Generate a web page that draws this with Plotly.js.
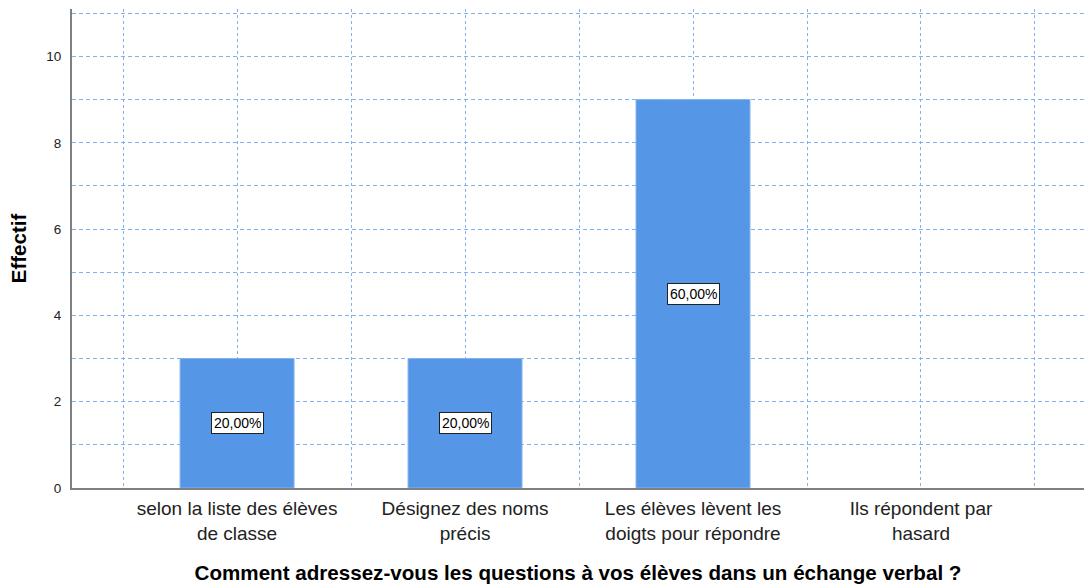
<!DOCTYPE html>
<html>
<head>
<meta charset="utf-8">
<script src="https://cdn.plot.ly/plotly-3.0.1.min.js"></script>
<style>html,body{margin:0;padding:0;background:#fff;}#chart{width:1084px;height:586px;}</style>
</head>
<body>
<div id="chart"></div>
<script>
const categories = [
  "selon la liste des élèves<br>de classe",
  "Désignez des noms<br>précis",
  "Les élèves lèvent les<br>doigts pour répondre",
  "Ils répondent par<br>hasard"
];
const counts = [3, 3, 9, 0];
const percentLabels = ["20,00%", "20,00%", "60,00%", ""];
const yTickValues = [0, 2, 4, 6, 8, 10];
const xTitle = "Comment adressez-vous les questions à vos élèves dans un échange verbal ?";
const yTitle = "Effectif";

const positions = categories.map((_, i) => i);
const font = "Liberation Sans, Arial, sans-serif";
const gridColor = "#80b2f0";

const trace = {
  type: "bar",
  x: positions,
  y: counts,
  width: 0.5,
  marker: {color: "#5596e6", line: {color: "#85b4ee", width: counts.map(v => v > 0 ? 1 : 0)}},
  hoverinfo: "none"
};

const annotations = counts
  .map((v, i) => ({v, i}))
  .filter(d => d.v > 0 && percentLabels[d.i])
  .map(d => ({
    x: d.i, y: d.v / 2, xref: "x", yref: "y",
    text: percentLabels[d.i], showarrow: false,
    font: {family: font, size: 14, color: "#000"},
    bgcolor: "#ffffff", bordercolor: "#222222", borderwidth: 1, borderpad: 2
  }));

const layout = {
  width: 1084, height: 586,
  margin: {l: 72, r: 0, t: 9, b: 98},
  paper_bgcolor: "#fff", plot_bgcolor: "#fff",
  showlegend: false,
  bargap: 0,
  font: {family: font, color: "#222"},
  xaxis: {
    type: "linear",
    range: [-0.724, 3.715],
    tickvals: positions,
    ticktext: categories,
    tickfont: {family: font, size: 19, color: "#222"},
    showgrid: true, gridcolor: gridColor, griddash: "3px,3px", gridwidth: 1,
    minor: {dtick: 0.5, tick0: 0.5, showgrid: true, gridcolor: gridColor, griddash: "3px,3px", gridwidth: 1},
    showline: true, linecolor: "#808080", linewidth: 2,
    ticks: "", zeroline: false,
    ticklabelstandoff: 2,
    title: {text: xTitle, font: {family: font, size: 20.6, color: "#000", weight: "bold"}, standoff: 23},
    fixedrange: true
  },
  yaxis: {
    range: [0, 11.1],
    tickvals: yTickValues,
    tickfont: {family: font, size: 13.5, color: "#222"},
    showgrid: true, gridcolor: gridColor, griddash: "4px,3px", gridwidth: 1,
    minor: {dtick: 1, tick0: 0, showgrid: true, gridcolor: gridColor, griddash: "4px,3px", gridwidth: 1},
    showline: true, linecolor: "#808080", linewidth: 2,
    ticks: "", zeroline: false,
    ticklabelstandoff: 6,
    title: {text: yTitle, font: {family: font, size: 20.5, color: "#000", weight: "bold"}, standoff: 14},
    fixedrange: true
  },
  annotations: annotations
};

Plotly.newPlot("chart", [trace], layout, {displayModeBar: false, staticPlot: true});
</script>
</body>
</html>
